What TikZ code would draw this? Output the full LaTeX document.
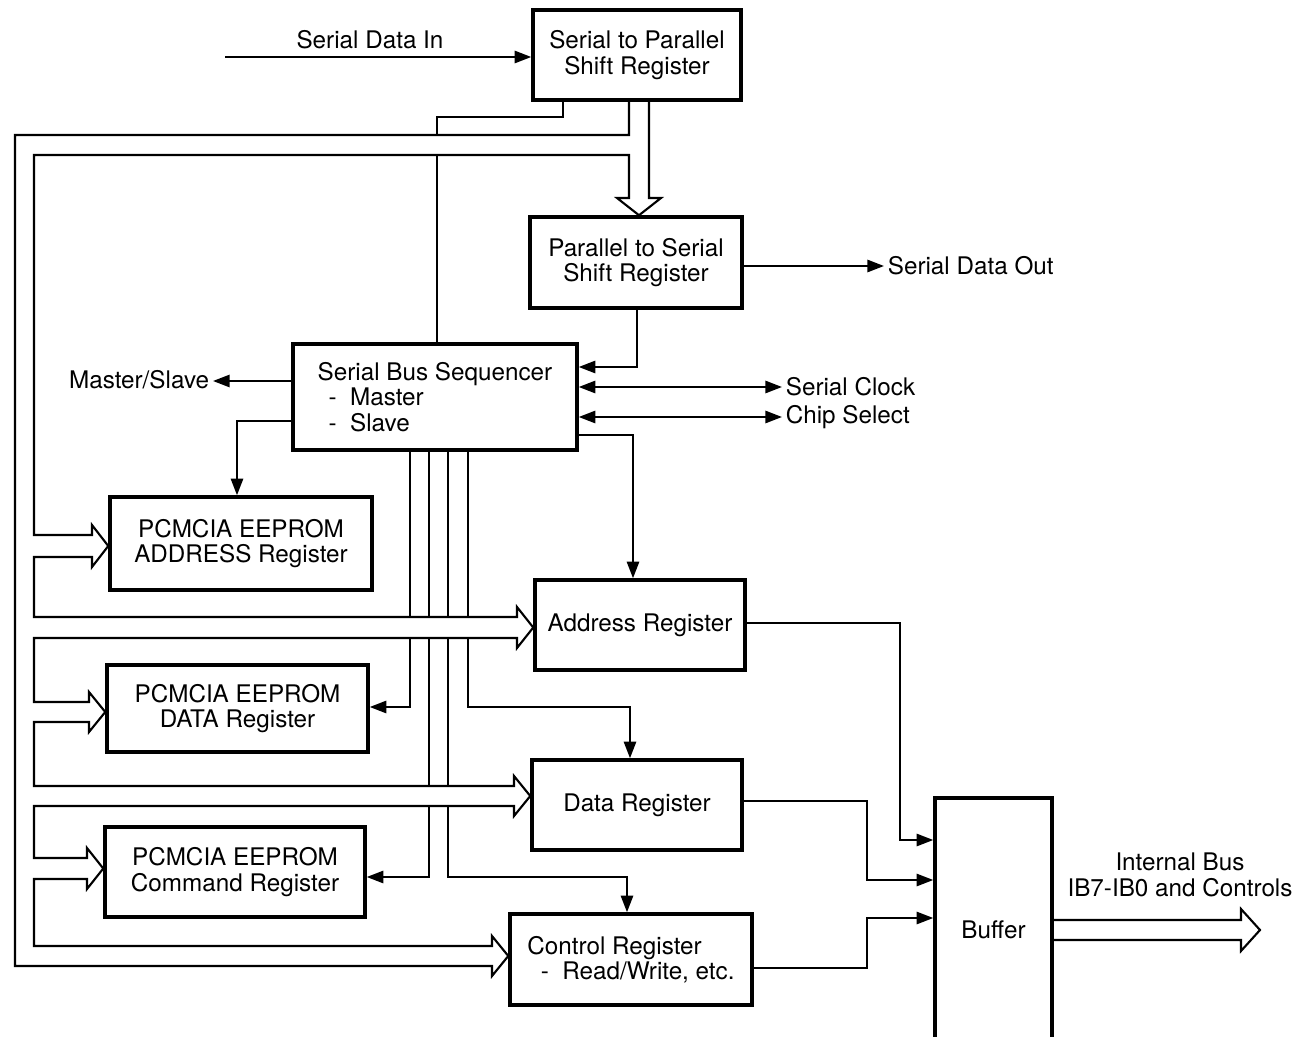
\documentclass[tikz,border=0pt]{standalone}
\usepackage{fontspec}
\setmainfont{TeX Gyre Heros}
\usetikzlibrary{arrows.meta}

\tikzset{
    reg/.style={draw, rectangle, line width=2pt, inner sep=0pt, align=center},
    wire/.style={line width=1.2pt},
    sig/.style={wire, -{Triangle[length=9.5pt,width=7pt]}},
    dsig/.style={wire, {Triangle[length=9.5pt,width=7pt]}-{Triangle[length=9.5pt,width=7pt]}},
    lbl/.style={inner sep=2pt, align=center}
}

\begin{document}
\begin{tikzpicture}[x=0.02cm, y=-0.02cm, font=\fontsize{13.8}{14.4}\selectfont]

        \useasboundingbox (0,0) rectangle (1302,1037);

        % registers
        \node[reg, minimum width=4.16cm, minimum height=1.8cm] (sp) at (637,55)
            {Serial to Parallel\\Shift Register};
        \node[reg, minimum width=4.24cm, minimum height=1.82cm] (ps) at (636,262.5)
            {Parallel to Serial\\Shift Register};
        \node[reg, minimum width=5.68cm, minimum height=2.12cm, align=left] (sbs) at (435,397)
            {Serial Bus Sequencer\\\hspace*{0.45em}-\ \ Master\\\hspace*{0.45em}-\ \ Slave};
        \node[reg, minimum width=5.24cm, minimum height=1.86cm] (pea) at (241,543.5)
            {PCMCIA EEPROM\\ADDRESS Register};
        \node[reg, minimum width=4.2cm, minimum height=1.8cm] (ar) at (640,625)
            {Address Register};
        \node[reg, minimum width=5.22cm, minimum height=1.74cm] (ped) at (237.5,708.5)
            {PCMCIA EEPROM\\DATA Register};
        \node[reg, minimum width=4.2cm, minimum height=1.8cm] (dr) at (637,805)
            {Data Register};
        \node[reg, minimum width=5.2cm, minimum height=1.8cm] (pec) at (235,872)
            {PCMCIA EEPROM\\Command Register};
        \node[reg, minimum width=4.84cm, minimum height=1.82cm, align=left] (cr) at (631,959.5)
            {Control Register\\\hspace*{0.55em}-\ \ Read/Write, etc.};
        \node[reg, minimum width=2.34cm, minimum height=5.28cm] (buf) at (993.5,930)
            {Buffer};

        % outside signals
        \coordinate (sdin) at (225,57);
        \node[lbl] at (370,40) {Serial Data In};
        \node[lbl, anchor=west] (sdout) at (884,266) {Serial Data Out};
        \node[lbl, anchor=east] (ms) at (213,380) {Master/Slave};
        \node[lbl, anchor=west] (sclk) at (782,387) {Serial Clock};
        \node[lbl, anchor=west] (cs) at (782,417) {Chip Select};
        \node[lbl] (ibus) at (1180,875) {Internal Bus\\IB7-IB0 and Controls};

        \path[draw,sig] (sdin) -- (sp.west |- sdin);
        \path[draw,sig] (ps.east |- 0,266) -- (sdout.west);
        \path[draw,sig] (ps.south -| 637,0) |- (sbs.east |- 0,367);
        \path[draw,dsig] (sbs.east |- 0,387) -- (sclk.west |- 0,387);
        \path[draw,dsig] (sbs.east |- 0,417) -- (cs.west |- 0,417);
        \path[draw,sig] (sbs.west |- 0,381) -- (ms.east |- 0,381);

        % wide bus from the shift register
        \path[draw,wire] (sp.south -| 649,0) -- (649,198) -- (661,198) -- (ps.north -| 639,0)
            -- (617,198) -- (629,198) -- (629,155) -- (34,155)
            -- (34,535) -- (92,535) -- (92,525) -- (pea.west |- 0,546) -- (92,567) -- (92,557) -- (34,557)
            -- (34,617) -- (517,617) -- (517,607) -- (ar.west |- 0,627.5) -- (517,648) -- (517,638) -- (34,638)
            -- (34,702) -- (89,702) -- (89,692) -- (ped.west |- 0,712) -- (89,732) -- (89,722) -- (34,722)
            -- (34,786) -- (514,786) -- (514,776) -- (dr.west |- 0,796) -- (514,816) -- (514,806) -- (34,806)
            -- (34,858) -- (87,858) -- (87,848) -- (pec.west |- 0,868.5) -- (87,889) -- (87,879) -- (34,879)
            -- (34,946) -- (492,946) -- (492,936) -- (cr.west |- 0,956) -- (492,976) -- (492,966) -- (15,966)
            -- (15,135) -- (629,135) -- (sp.south -| 629,0);
        \path[draw,wire] (sp.south -| 563,0) -- (563,117) -- (437,117) -- (437,135);
        \path[draw,wire] (437,155) -- (sbs.north -| 437,0);

        % sequencer to the registers
        \path[draw,sig] (sbs.west |- 0,421) -| (pea.north -| 237,0);
        \path[draw,sig] (sbs.east |- 0,435) -| (ar.north -| 633,0);
        \foreach \x in {410,429,448,468}
            \path[draw,wire] (sbs.south -| \x,0) -- (\x,617);
        \path[draw,sig] (410,638) |- (ped.east |- 0,707);
        \path[draw,sig] (468,638) -- (468,707) -| (dr.north -| 630,0);
        \path[draw,wire] (429,638) -- (429,786);
        \path[draw,wire] (448,638) -- (448,786);
        \path[draw,sig] (429,806) |- (pec.east |- 0,877);
        \path[draw,sig] (448,806) -- (448,877) -| (cr.north -| 627,0);

        % registers to the buffer
        \path[draw,sig] (ar.east |- 0,623) -| (900,840) -- (buf.west |- 0,840);
        \path[draw,sig] (dr.east |- 0,801) -| (867,880) -- (buf.west |- 0,880);
        \path[draw,sig] (cr.east |- 0,968) -| (867,918) -- (buf.west |- 0,918);
        \path[draw,wire] (buf.east |- 0,920) -- (1241,920) -- (1241,909) -- (1260,930)
            -- (1241,951) -- (1241,940) -- (buf.east |- 0,940);
    \end{tikzpicture}
\end{document}
